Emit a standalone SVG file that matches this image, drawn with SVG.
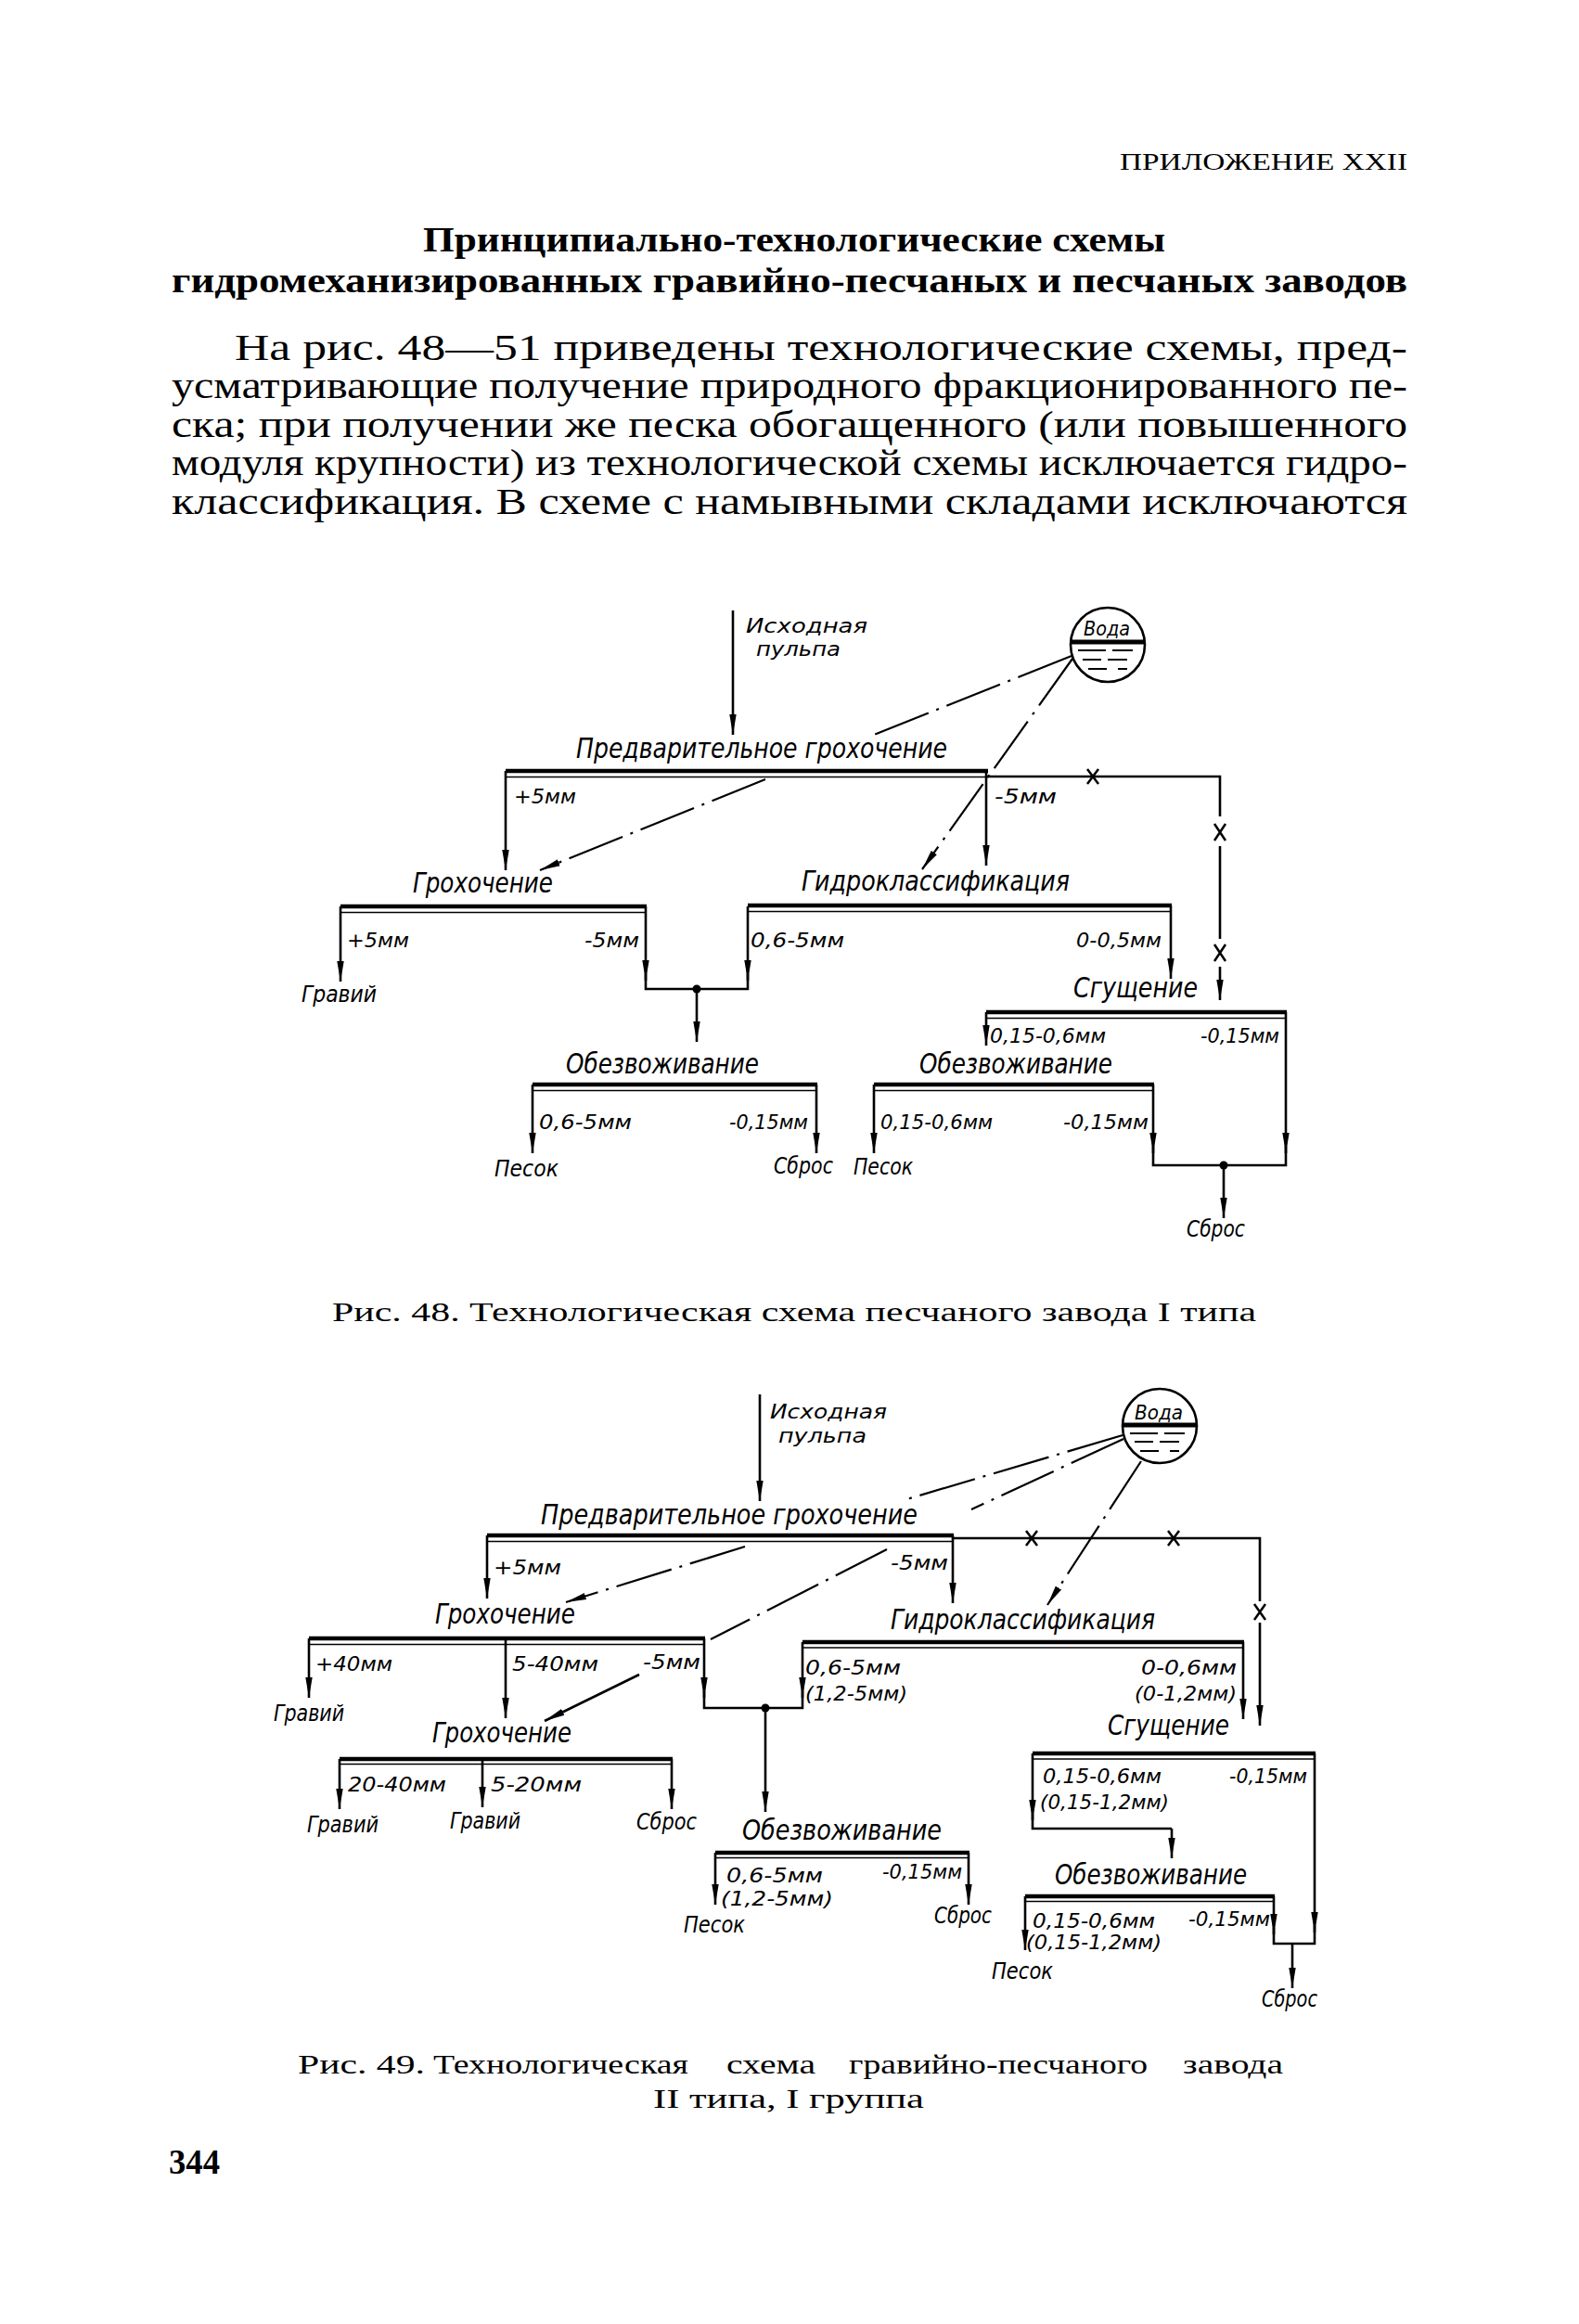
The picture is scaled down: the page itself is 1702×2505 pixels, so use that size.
<svg xmlns="http://www.w3.org/2000/svg" width="1702" height="2505" viewBox="0 0 1702 2505">
<style>
.ln{stroke:#000;stroke-width:2.6;fill:none}
.bk{stroke:#000;stroke-width:4.5;fill:none}
.bt{stroke:#000;stroke-width:1.6;fill:none}
.wl{stroke:#000;stroke-width:2.2;fill:none;stroke-dasharray:62 9 3 9}
.xm{stroke:#000;stroke-width:2.5;fill:none}
.ws{stroke:#000;stroke-width:2.2;fill:none}
.t{font-family:"DejaVu Sans Condensed","Liberation Sans Narrow","Liberation Sans",sans-serif;font-style:italic;fill:#000}
.p{font-size:30px}
.s{font-size:21px}
.o{font-size:24px}
.i{font-size:21px}
.sf{font-family:"Liberation Serif",serif;fill:#000}
</style>
<defs>
<marker id="ar" markerUnits="userSpaceOnUse" markerWidth="24" markerHeight="10" viewBox="0 0 24 10" refX="22" refY="5" orient="auto">
<path d="M0,1.3 L22,5 L0,8.7 Z" fill="#000"/>
</marker>
</defs>
<rect width="1702" height="2505" fill="#fff"/>

<g id="page-text">
<text class="sf" x="1207" y="183" font-size="25" textLength="310" lengthAdjust="spacingAndGlyphs">ПРИЛОЖЕНИЕ XXII</text>
<text class="sf" x="456" y="271" font-size="38" font-weight="bold" textLength="800" lengthAdjust="spacingAndGlyphs">Принципиально-технологические схемы</text>
<text class="sf" x="185" y="315" font-size="38" font-weight="bold" textLength="1332" lengthAdjust="spacingAndGlyphs">гидромеханизированных гравийно-песчаных и песчаных заводов</text>
<text class="sf" x="253" y="388" font-size="39" textLength="1264" lengthAdjust="spacingAndGlyphs">На рис. 48—51 приведены технологические схемы, пред-</text>
<text class="sf" x="185" y="429" font-size="39" textLength="1332" lengthAdjust="spacingAndGlyphs">усматривающие получение природного фракционированного пе-</text>
<text class="sf" x="185" y="471" font-size="39" textLength="1332" lengthAdjust="spacingAndGlyphs">ска; при получении же песка обогащенного (или повышенного</text>
<text class="sf" x="185" y="512" font-size="39" textLength="1332" lengthAdjust="spacingAndGlyphs">модуля крупности) из технологической схемы исключается гидро-</text>
<text class="sf" x="185" y="554" font-size="39" textLength="1332" lengthAdjust="spacingAndGlyphs">классификация. В схеме с намывными складами исключаются</text>
<text class="sf" x="358" y="1424" font-size="30" textLength="996" lengthAdjust="spacingAndGlyphs">Рис. 48. Технологическая схема песчаного завода I типа</text>
<text class="sf" x="321" y="2235" font-size="30" textLength="137" lengthAdjust="spacingAndGlyphs">Рис. 49.</text>
<text class="sf" x="467" y="2235" font-size="30" textLength="275" lengthAdjust="spacingAndGlyphs">Технологическая</text>
<text class="sf" x="783" y="2235" font-size="30" textLength="96" lengthAdjust="spacingAndGlyphs">схема</text>
<text class="sf" x="915" y="2235" font-size="30" textLength="322" lengthAdjust="spacingAndGlyphs">гравийно-песчаного</text>
<text class="sf" x="1275" y="2235" font-size="30" textLength="108" lengthAdjust="spacingAndGlyphs">завода</text>
<text class="sf" x="704" y="2272" font-size="30" textLength="292" lengthAdjust="spacingAndGlyphs">II типа, I группа</text>
<text class="sf" x="182" y="2343" font-size="38" font-weight="bold" textLength="55" lengthAdjust="spacingAndGlyphs">344</text>
</g>

<!-- ================= FIG 48 ================= -->
<g id="f48-input">
<text class="t i" x="804" y="682" textLength="131" lengthAdjust="spacingAndGlyphs">Исходная</text>
<text class="t i" x="815" y="707" textLength="91" lengthAdjust="spacingAndGlyphs">пульпа</text>
</g>
<g id="f48-water" transform="translate(1194,695)">
<circle cx="0" cy="0" r="40" class="ln"/>
<line x1="-39.9" y1="-3" x2="39.9" y2="-3" stroke="#000" stroke-width="5"/>
<path class="ws" d="M-32,6H-2M5,6H27M-27,16H-7M0,16H21M-21,26H-1M11,26H21"/>
<text class="t s" x="-26" y="-10" textLength="50" lengthAdjust="spacingAndGlyphs">Вода</text>
</g>
<g id="f48-prescreen">
<text class="t p" x="621" y="817" textLength="400" lengthAdjust="spacingAndGlyphs">Предварительное грохочение</text>
<line class="bk" x1="545" y1="831" x2="1065" y2="831"/>
<line class="bt" x1="545" y1="837.5" x2="1065" y2="837.5"/>
</g>
<g id="f48-screen">
<text class="t p" x="445" y="962" textLength="151" lengthAdjust="spacingAndGlyphs">Грохочение</text>
<line class="bk" x1="367" y1="977" x2="697" y2="977"/>
<line class="bt" x1="367" y1="983.5" x2="697" y2="983.5"/>
</g>
<g id="f48-hydro">
<text class="t p" x="864" y="960" textLength="289" lengthAdjust="spacingAndGlyphs">Гидроклассификация</text>
<line class="bk" x1="806" y1="976" x2="1263" y2="976"/>
<line class="bt" x1="806" y1="982.5" x2="1263" y2="982.5"/>
</g>
<g id="f48-thicken">
<text class="t p" x="1157" y="1075" textLength="134" lengthAdjust="spacingAndGlyphs">Сгущение</text>
<line class="bk" x1="1063" y1="1091" x2="1387" y2="1091"/>
<line class="bt" x1="1063" y1="1097.5" x2="1387" y2="1097.5"/>
</g>
<g id="f48-dewater1">
<text class="t p" x="610" y="1157" textLength="208" lengthAdjust="spacingAndGlyphs">Обезвоживание</text>
<line class="bk" x1="574" y1="1169" x2="881" y2="1169"/>
<line class="bt" x1="574" y1="1175.5" x2="881" y2="1175.5"/>
</g>
<g id="f48-dewater2">
<text class="t p" x="991" y="1157" textLength="208" lengthAdjust="spacingAndGlyphs">Обезвоживание</text>
<line class="bk" x1="942" y1="1169" x2="1244" y2="1169"/>
<line class="bt" x1="942" y1="1175.5" x2="1244" y2="1175.5"/>
</g>
<g id="f48-gravel"><text class="t o" x="325" y="1080" textLength="81" lengthAdjust="spacingAndGlyphs">Гравий</text></g>
<g id="f48-sand1"><text class="t o" x="533" y="1268" textLength="69" lengthAdjust="spacingAndGlyphs">Песок</text></g>
<g id="f48-waste1"><text class="t o" x="834" y="1265" textLength="64" lengthAdjust="spacingAndGlyphs">Сброс</text></g>
<g id="f48-sand2"><text class="t o" x="920" y="1266" textLength="64" lengthAdjust="spacingAndGlyphs">Песок</text></g>
<g id="f48-waste2"><text class="t o" x="1279" y="1333" textLength="63" lengthAdjust="spacingAndGlyphs">Сброс</text></g>

<g id="f48-connectors">
<line class="ln" x1="790" y1="658" x2="790" y2="792" marker-end="url(#ar)"/>
<line class="ln" x1="545" y1="831" x2="545" y2="938" marker-end="url(#ar)"/>
<line class="ln" x1="1063" y1="831" x2="1063" y2="933" marker-end="url(#ar)"/>
<path class="ln" d="M1063,837H1315V880"/>
<path class="ln" d="M1315,912V1012"/>
<line class="ln" x1="1315" y1="1042" x2="1315" y2="1078" marker-end="url(#ar)"/>
<path class="xm" d="M1172,829L1184,845M1184,829L1172,845"/>
<path class="xm" d="M1309,888L1321,906M1321,888L1309,906"/>
<path class="xm" d="M1309,1018L1321,1036M1321,1018L1309,1036"/>
<line class="ln" x1="367" y1="977" x2="367" y2="1058" marker-end="url(#ar)"/>
<line class="ln" x1="696" y1="977" x2="696" y2="1057" marker-end="url(#ar)"/>
<line class="ln" x1="806" y1="977" x2="806" y2="1057" marker-end="url(#ar)"/>
<path class="ln" d="M696,1050V1066H806V1050"/>
<circle cx="751" cy="1066" r="4.5" fill="#000"/>
<line class="ln" x1="751" y1="1066" x2="751" y2="1123" marker-end="url(#ar)"/>
<line class="ln" x1="1262" y1="976" x2="1262" y2="1055" marker-end="url(#ar)"/>
<line class="ln" x1="1063" y1="1091" x2="1063" y2="1127" marker-end="url(#ar)"/>
<line class="ln" x1="1386" y1="1091" x2="1386" y2="1243" marker-end="url(#ar)"/>
<line class="ln" x1="574" y1="1169" x2="574" y2="1243" marker-end="url(#ar)"/>
<line class="ln" x1="880" y1="1169" x2="880" y2="1243" marker-end="url(#ar)"/>
<line class="ln" x1="942" y1="1169" x2="942" y2="1243" marker-end="url(#ar)"/>
<line class="ln" x1="1243" y1="1169" x2="1243" y2="1243" marker-end="url(#ar)"/>
<path class="ln" d="M1243,1236V1256H1386V1236"/>
<circle cx="1319" cy="1256" r="4.5" fill="#000"/>
<line class="ln" x1="1319" y1="1256" x2="1319" y2="1313" marker-end="url(#ar)"/>
<line class="wl" x1="1155" y1="707" x2="942" y2="792"/>
<line class="wl" x1="1156" y1="710" x2="994" y2="937" marker-end="url(#ar)"/>
<line class="wl" x1="825" y1="840" x2="582" y2="938" marker-end="url(#ar)"/>
<text class="t s" x="554" y="866" textLength="67" lengthAdjust="spacingAndGlyphs">+5мм</text>
<text class="t s" x="1072" y="866" textLength="67" lengthAdjust="spacingAndGlyphs">-5мм</text>
<text class="t s" x="374" y="1021" textLength="67" lengthAdjust="spacingAndGlyphs">+5мм</text>
<text class="t s" x="630" y="1021" textLength="59" lengthAdjust="spacingAndGlyphs">-5мм</text>
<text class="t s" x="809" y="1021" textLength="101" lengthAdjust="spacingAndGlyphs">0,6-5мм</text>
<text class="t s" x="1160" y="1021" textLength="92" lengthAdjust="spacingAndGlyphs">0-0,5мм</text>
<text class="t s" x="1067" y="1124" textLength="125" lengthAdjust="spacingAndGlyphs">0,15-0,6мм</text>
<text class="t s" x="1294" y="1124" textLength="85" lengthAdjust="spacingAndGlyphs">-0,15мм</text>
<text class="t s" x="581" y="1217" textLength="100" lengthAdjust="spacingAndGlyphs">0,6-5мм</text>
<text class="t s" x="786" y="1217" textLength="85" lengthAdjust="spacingAndGlyphs">-0,15мм</text>
<text class="t s" x="949" y="1217" textLength="121" lengthAdjust="spacingAndGlyphs">0,15-0,6мм</text>
<text class="t s" x="1146" y="1217" textLength="92" lengthAdjust="spacingAndGlyphs">-0,15мм</text>
</g>

<!-- ================= FIG 49 ================= -->
<g id="f49-input">
<text class="t i" x="830" y="1529" textLength="126" lengthAdjust="spacingAndGlyphs">Исходная</text>
<text class="t i" x="839" y="1555" textLength="95" lengthAdjust="spacingAndGlyphs">пульпа</text>
</g>
<g id="f49-water" transform="translate(1250,1537)">
<circle cx="0" cy="0" r="40" class="ln"/>
<line x1="-39.9" y1="-1" x2="39.9" y2="-1" stroke="#000" stroke-width="5"/>
<path class="ws" d="M-32,8H-2M5,8H27M-27,17H-7M0,17H21M-21,27H-1M11,27H21"/>
<text class="t s" x="-27" y="-7" textLength="52" lengthAdjust="spacingAndGlyphs">Вода</text>
</g>
<g id="f49-prescreen">
<text class="t p" x="583" y="1643" textLength="406" lengthAdjust="spacingAndGlyphs">Предварительное грохочение</text>
<line class="bk" x1="525" y1="1655" x2="1028" y2="1655"/>
<line class="bt" x1="525" y1="1661.5" x2="1028" y2="1661.5"/>
</g>
<g id="f49-screen1">
<text class="t p" x="469" y="1750" textLength="151" lengthAdjust="spacingAndGlyphs">Грохочение</text>
<line class="bk" x1="333" y1="1766" x2="760" y2="1766"/>
<line class="bt" x1="333" y1="1772.5" x2="760" y2="1772.5"/>
</g>
<g id="f49-hydro">
<text class="t p" x="960" y="1756" textLength="285" lengthAdjust="spacingAndGlyphs">Гидроклассификация</text>
<line class="bk" x1="865" y1="1770" x2="1341" y2="1770"/>
<line class="bt" x1="865" y1="1776" x2="1341" y2="1776"/>
</g>
<g id="f49-screen2">
<text class="t p" x="466" y="1878" textLength="150" lengthAdjust="spacingAndGlyphs">Грохочение</text>
<line class="bk" x1="366" y1="1896" x2="725" y2="1896"/>
<line class="bt" x1="366" y1="1901.5" x2="725" y2="1901.5"/>
</g>
<g id="f49-thicken">
<text class="t p" x="1194" y="1870" textLength="131" lengthAdjust="spacingAndGlyphs">Сгущение</text>
<line class="bk" x1="1113" y1="1890" x2="1418" y2="1890"/>
<line class="bt" x1="1113" y1="1896" x2="1418" y2="1896"/>
</g>
<g id="f49-dewater1">
<text class="t p" x="800" y="1983" textLength="215" lengthAdjust="spacingAndGlyphs">Обезвоживание</text>
<line class="bk" x1="771" y1="1997" x2="1045" y2="1997"/>
<line class="bt" x1="771" y1="2002.5" x2="1045" y2="2002.5"/>
</g>
<g id="f49-dewater2">
<text class="t p" x="1137" y="2031" textLength="207" lengthAdjust="spacingAndGlyphs">Обезвоживание</text>
<line class="bk" x1="1105" y1="2044" x2="1374" y2="2044"/>
<line class="bt" x1="1105" y1="2049.5" x2="1374" y2="2049.5"/>
</g>
<g id="f49-gravel1"><text class="t o" x="295" y="1855" textLength="76" lengthAdjust="spacingAndGlyphs">Гравий</text></g>
<g id="f49-gravel2"><text class="t o" x="331" y="1975" textLength="77" lengthAdjust="spacingAndGlyphs">Гравий</text></g>
<g id="f49-gravel3"><text class="t o" x="485" y="1971" textLength="76" lengthAdjust="spacingAndGlyphs">Гравий</text></g>
<g id="f49-waste1"><text class="t o" x="686" y="1972" textLength="65" lengthAdjust="spacingAndGlyphs">Сброс</text></g>
<g id="f49-sand1"><text class="t o" x="737" y="2083" textLength="66" lengthAdjust="spacingAndGlyphs">Песок</text></g>
<g id="f49-waste2"><text class="t o" x="1007" y="2073" textLength="62" lengthAdjust="spacingAndGlyphs">Сброс</text></g>
<g id="f49-sand2"><text class="t o" x="1069" y="2133" textLength="66" lengthAdjust="spacingAndGlyphs">Песок</text></g>
<g id="f49-waste3"><text class="t o" x="1360" y="2163" textLength="60" lengthAdjust="spacingAndGlyphs">Сброс</text></g>

<g id="f49-connectors">
<line class="ln" x1="819" y1="1503" x2="819" y2="1618" marker-end="url(#ar)"/>
<line class="ln" x1="525" y1="1655" x2="525" y2="1723" marker-end="url(#ar)"/>
<line class="ln" x1="1027" y1="1655" x2="1027" y2="1728" marker-end="url(#ar)"/>
<path class="ln" d="M1027,1658H1358V1726"/>
<line class="ln" x1="1358" y1="1749" x2="1358" y2="1860" marker-end="url(#ar)"/>
<path class="xm" d="M1106,1650L1118,1666M1118,1650L1106,1666"/>
<path class="xm" d="M1259,1650L1271,1666M1271,1650L1259,1666"/>
<path class="xm" d="M1352,1729L1364,1746M1364,1729L1352,1746"/>
<line class="ln" x1="333" y1="1766" x2="333" y2="1830" marker-end="url(#ar)"/>
<line class="ln" x1="545" y1="1766" x2="545" y2="1852" marker-end="url(#ar)"/>
<line class="ln" x1="759" y1="1766" x2="759" y2="1830" marker-end="url(#ar)"/>
<line class="ln" x1="865" y1="1770" x2="865" y2="1830" marker-end="url(#ar)"/>
<path class="ln" d="M759,1823V1841H865V1823"/>
<circle cx="825" cy="1841" r="4.5" fill="#000"/>
<line class="ln" x1="825" y1="1841" x2="825" y2="1953" marker-end="url(#ar)"/>
<line class="ln" x1="1340" y1="1770" x2="1340" y2="1853" marker-end="url(#ar)"/>
<line class="ln" x1="1113" y1="1890" x2="1113" y2="1962" marker-end="url(#ar)"/>
<path class="ln" d="M1113,1955V1971H1263"/>
<line class="ln" x1="1263" y1="1971" x2="1263" y2="2003" marker-end="url(#ar)"/>
<line class="ln" x1="1417" y1="1890" x2="1417" y2="2083" marker-end="url(#ar)"/>
<line class="ln" x1="366" y1="1896" x2="366" y2="1950" marker-end="url(#ar)"/>
<line class="ln" x1="520" y1="1896" x2="520" y2="1948" marker-end="url(#ar)"/>
<line class="ln" x1="724" y1="1896" x2="724" y2="1950" marker-end="url(#ar)"/>
<line class="ln" x1="771" y1="1997" x2="771" y2="2053" marker-end="url(#ar)"/>
<line class="ln" x1="1044" y1="1997" x2="1044" y2="2053" marker-end="url(#ar)"/>
<line class="ln" x1="1105" y1="2044" x2="1105" y2="2102" marker-end="url(#ar)"/>
<line class="ln" x1="1373" y1="2044" x2="1373" y2="2085" marker-end="url(#ar)"/>
<path class="ln" d="M1373,2078V2095H1417V2076"/>
<line class="ln" x1="1393" y1="2095" x2="1393" y2="2143" marker-end="url(#ar)"/>
<line class="wl" x1="1210" y1="1547" x2="974" y2="1617"/>
<line class="wl" x1="1211" y1="1551" x2="1047" y2="1627"/>
<line class="wl" x1="1230" y1="1575" x2="1129" y2="1730" marker-end="url(#ar)"/>
<line class="wl" x1="803" y1="1667" x2="610" y2="1727" marker-end="url(#ar)"/>
<line class="wl" x1="956" y1="1670" x2="766" y2="1767"/>
<line class="ln" x1="689" y1="1805" x2="587" y2="1855" marker-end="url(#ar)"/>
<text class="t s" x="532" y="1697" textLength="73" lengthAdjust="spacingAndGlyphs">+5мм</text>
<text class="t s" x="960" y="1692" textLength="62" lengthAdjust="spacingAndGlyphs">-5мм</text>
<text class="t s" x="340" y="1801" textLength="83" lengthAdjust="spacingAndGlyphs">+40мм</text>
<text class="t s" x="552" y="1801" textLength="93" lengthAdjust="spacingAndGlyphs">5-40мм</text>
<text class="t s" x="693" y="1799" textLength="62" lengthAdjust="spacingAndGlyphs">-5мм</text>
<text class="t s" x="868" y="1805" textLength="103" lengthAdjust="spacingAndGlyphs">0,6-5мм</text>
<text class="t s" x="868" y="1833" textLength="110" lengthAdjust="spacingAndGlyphs">(1,2-5мм)</text>
<text class="t s" x="1230" y="1805" textLength="103" lengthAdjust="spacingAndGlyphs">0-0,6мм</text>
<text class="t s" x="1223" y="1833" textLength="110" lengthAdjust="spacingAndGlyphs">(0-1,2мм)</text>
<text class="t s" x="375" y="1931" textLength="106" lengthAdjust="spacingAndGlyphs">20-40мм</text>
<text class="t s" x="529" y="1931" textLength="98" lengthAdjust="spacingAndGlyphs">5-20мм</text>
<text class="t s" x="1124" y="1922" textLength="128" lengthAdjust="spacingAndGlyphs">0,15-0,6мм</text>
<text class="t s" x="1121" y="1950" textLength="139" lengthAdjust="spacingAndGlyphs">(0,15-1,2мм)</text>
<text class="t s" x="1325" y="1922" textLength="84" lengthAdjust="spacingAndGlyphs">-0,15мм</text>
<text class="t s" x="783" y="2029" textLength="104" lengthAdjust="spacingAndGlyphs">0,6-5мм</text>
<text class="t s" x="777" y="2054" textLength="121" lengthAdjust="spacingAndGlyphs">(1,2-5мм)</text>
<text class="t s" x="951" y="2025" textLength="86" lengthAdjust="spacingAndGlyphs">-0,15мм</text>
<text class="t s" x="1113" y="2078" textLength="132" lengthAdjust="spacingAndGlyphs">0,15-0,6мм</text>
<text class="t s" x="1106" y="2101" textLength="146" lengthAdjust="spacingAndGlyphs">(0,15-1,2мм)</text>
<text class="t s" x="1281" y="2076" textLength="88" lengthAdjust="spacingAndGlyphs">-0,15мм</text>
</g>
</svg>
